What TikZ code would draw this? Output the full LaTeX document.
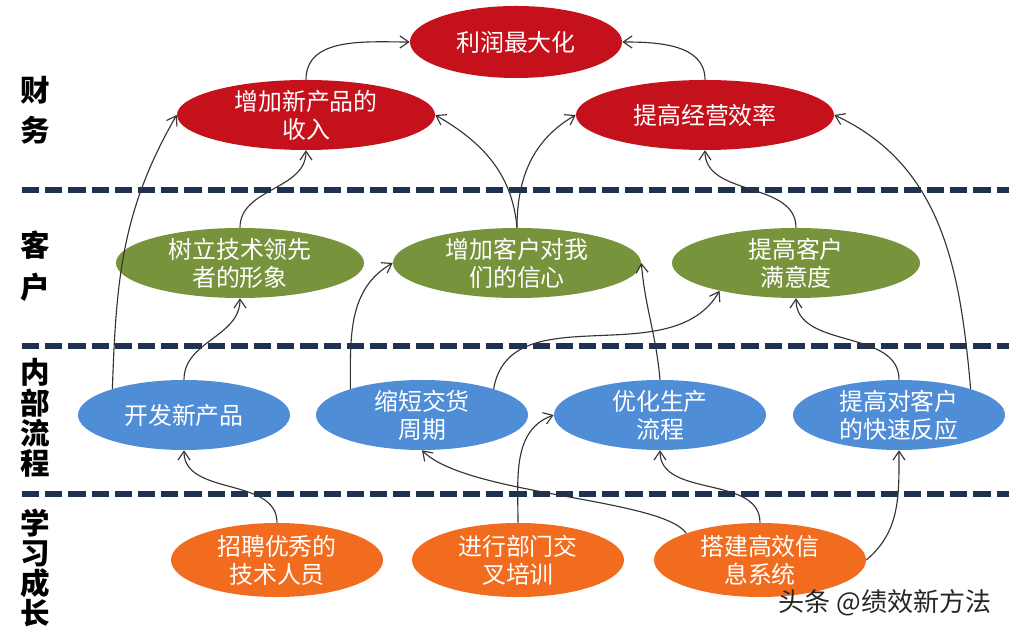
\documentclass[tikz,border=0pt]{standalone}
\usepackage{fontspec}
\setmainfont{Noto Sans CJK SC}
\usetikzlibrary{positioning, shapes.geometric, arrows.meta}
\definecolor{finred}{HTML}{C5111B}
\definecolor{custgreen}{HTML}{77933C}
\definecolor{procblue}{HTML}{4F8DD6}
\definecolor{learnorange}{HTML}{F26C1F}
\definecolor{lanenavy}{HTML}{1F3350}

\begin{document}
\begin{tikzpicture}[x=0.025cm, y=0.025cm,
            goal/.style={ellipse, inner xsep=0pt, inner ysep=-2pt, text=white, align=center, font=\fontsize{17}{20}\selectfont},
            fin/.style={goal, fill=finred, minimum width=6.45cm, minimum height=1.75cm},
            cust/.style={goal, fill=custgreen, minimum width=6.2cm, minimum height=1.75cm},
            proc/.style={goal, fill=procblue, minimum width=5.3cm, minimum height=1.75cm},
            learn/.style={goal, fill=learnorange, minimum width=5.3cm, minimum height=1.85cm},
            link/.style={draw=black!80, line width=0.8pt, -{Straight Barb[length=2.2mm,width=3mm]}},
            lane/.style={draw=lanenavy, line width=0.15cm, dash pattern=on 0.43cm off 0.15cm},
            side/.style={font=\bfseries\fontsize{21}{#1}\selectfont, align=center}
        ]
            \useasboundingbox[fill=white] (0,0) rectangle (1009,-635);

            % --- 分隔线 ---
            \draw[lane] (22,-190) -- (1009,-190);
            \draw[lane] (22,-346) -- (1009,-346);
            \draw[lane] (22,-494) -- (1009,-494);

            % --- 左侧维度 ---
            \node[side=28.5pt] (sfin) at (35,-110) {财\\务};
            \node[side=30pt] (scust) at (35,-266) {客\\户};
            \node[side=21.5pt] (sproc) at (35,-418) {内\\部\\流\\程};
            \node[side=21.5pt] (slearn) at (35,-568) {学\\习\\成\\长};

            % --- 财务 ---
            \node[fin, minimum width=5.3cm, minimum height=1.8cm] (lirun) at (516,-42) {利润最大化};
            \node[fin] (shouru) at (306,-115) {增加新产品的\\收入};
            \node[fin] (xiaolv) at (705,-115) {提高经营效率};

            % --- 客户 ---
            \node[cust] (shuli) at (240,-263) {树立技术领先\\者的形象};
            \node[cust] (xinxin) at (517,-263) {增加客户对我\\们的信心};
            \node[cust] (manyi) at (796,-263) {提高客户\\满意度};

            % --- 内部流程 ---
            \node[proc] (kaifa) at (184,-415) {开发新产品};
            \node[proc] (suoduan) at (422,-415) {缩短交货\\周期};
            \node[proc] (youhua) at (660,-415) {优化生产\\流程};
            \node[proc] (fanying) at (899,-415) {提高对客户\\的快速反应};

            % --- 学习成长 ---
            \node[learn] (zhaopin) at (277,-560) {招聘优秀的\\技术人员};
            \node[learn] (peixun) at (518,-560) {进行部门交\\叉培训};
            \node[learn] (dajian) at (760,-560) {搭建高效信\\息系统};

            % --- 因果箭头 ---
            \draw[link] (shouru.north) to[out=90,in=180] (lirun.west);
            \draw[link] (xiaolv.north) to[out=90,in=0] (lirun.east);
            \draw[link] (kaifa.160) to[out=88,in=-120] (shouru.west);
            \draw[link] (shuli.north) to[out=90,in=-90] (shouru.south);
            \draw[link] (kaifa.north) to[out=90,in=-90] (shuli.south);
            \draw[link] (xinxin.north) to[out=95,in=-30] (shouru.east);
            \draw[link] (xinxin.north) to[out=90,in=-150] (xiaolv.west);
            \draw[link] (manyi.north) to[out=90,in=-90] (xiaolv.south);
            \draw[link] (fanying.20) to[out=95,in=-25] (xiaolv.east);
            \draw[link] (suoduan.160) to[out=90,in=-150] (xinxin.west);
            \draw[link] (suoduan.20) to[out=80,in=-120] (manyi.200);
            \draw[link] (youhua.north) to[out=95,in=-85] (xinxin.east);
            \draw[link] (fanying.north) to[out=90,in=-90] (manyi.south);
            \draw[link] (zhaopin.north) to[out=90,in=-90] (kaifa.south);
            \draw[link] (peixun.north) to[out=90,in=-160] (youhua.west);
            \draw[link] (dajian.160) .. controls +(-25,35) and +(45,-45) .. (suoduan.south);
            \draw[link] (dajian.north) to[out=90,in=-90] (youhua.south);
            \draw[link] (dajian.east) to[out=40,in=-90] (fanying.south);

            \node[text=black!85, font=\fontsize{18.5}{20}\selectfont] (mark) at (885,-603) {头条 @绩效新方法};
        \end{tikzpicture}
\end{document}
